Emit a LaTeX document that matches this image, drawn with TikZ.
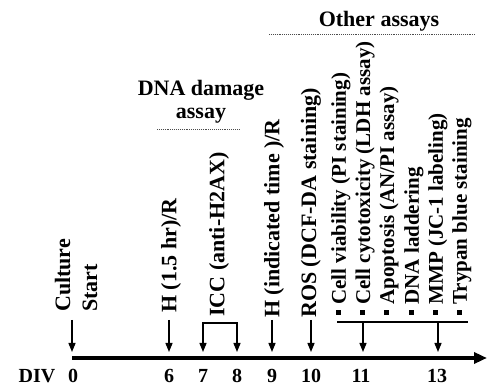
\documentclass[tikz,border=0pt]{standalone}
\usepackage{fontspec}
\setmainfont{Liberation Serif}
\usetikzlibrary{arrows.meta, positioning}
\tikzset{
    lbl/.style={rotate=90, anchor=west, inner sep=0pt, font=\fontsize{21}{24}\selectfont\bfseries},
    evt/.style={lbl, font=\fontsize{22}{27}\selectfont\bfseries},
    head/.style={align=center, inner sep=0pt, font=\fontsize{22}{23}\selectfont\bfseries},
    day/.style={anchor=base, inner sep=0pt, font=\fontsize{20}{24}\selectfont\bfseries},
    arrow/.style={line width=1.3pt, -{Triangle[length=9pt,width=7pt]}},
    both/.style={line width=1.3pt, {Triangle[length=9pt,width=7pt]}-{Triangle[length=9pt,width=7pt]}},
    bar/.style={line width=1.3pt},
    axis/.style={line width=3.5pt, -{Triangle[length=13pt,width=11pt]}},
    rule/.style={densely dotted, line width=0.9pt, black!70}
}
\newcommand{\sqbul}{\raisebox{0.22em}{\rule{0.24em}{0.24em}}\ }

\begin{document}
\begin{tikzpicture}[x=1pt, y=1pt]
    \useasboundingbox (0,0) rectangle (488,390);

    % time axis
    \coordinate (d0) at (72,32);
    \coordinate (dend) at (487,32);
    \draw [axis] (d0) -- (dend);
    \node (div) [day] at (37,7) {DIV};
    \foreach \d/\x in {0/73, 6/169, 7/203, 8/237, 9/272, 10/311, 11/361, 13/437}
        \node (n\d) [day] at (\x,7) {\d};

    % single arrows
    \foreach \n/\x in {0/72, 6/169, 9/272, 10/311} {
        \coordinate (top\n) at (\x,70);
        \coordinate (tip\n) at (\x,38);
        \draw [arrow] (top\n) -- (tip\n);
    }

    % ICC bracket
    \coordinate (icc7) at (203,67);
    \coordinate (icc8) at (237,67);
    \coordinate (tip7) at (203,38);
    \coordinate (tip8) at (237,38);
    \draw [both] (tip7) -- (icc7) -- (icc8) -- (tip8);

    % other assays bracket
    \coordinate (othL) at (337,68);
    \coordinate (othR) at (468,68);
    \coordinate (top11) at (363,68);
    \coordinate (top13) at (438,68);
    \coordinate (tip11) at (363,38);
    \coordinate (tip13) at (438,38);
    \draw [bar] (othL) -- (othR);
    \draw [arrow] (top11) -- (tip11);
    \draw [arrow] (top13) -- (tip13);

    % labels
    \node (cult) [evt, align=left] at (76,78) {Culture\\Start};
    \node (h15) [evt] at (171,77) {H (1.5 hr)/R};
    \node (icc) [evt] at (219,73) {ICC (anti-H2AX)};
    \node (hind) [evt] at (274,72) {H (indicated time )/R};
    \node (ros) [evt] at (311,72) {ROS (DCF-DA staining)};
    \node (via) [lbl] at (341,75) {\sqbul Cell viability (PI staining)};
    \node (cyt) [lbl] at (365,75) {\sqbul Cell cytotoxicity (LDH assay)};
    \node (apo) [lbl] at (389,75) {\sqbul Apoptosis (AN/PI assay)};
    \node (lad) [lbl] at (414,75) {\sqbul DNA laddering};
    \node (mmp) [lbl] at (438,75) {\sqbul MMP (JC-1 labeling)};
    \node (try) [lbl] at (462,75) {\sqbul Trypan blue staining};

    % headings
    \node (dna) [head, anchor=north] at (201,310) {DNA damage\\assay};
    \coordinate (dnaL) at (157,261);
    \coordinate (dnaR) at (240,261);
    \draw [rule] (dnaL) -- (dnaR);
    \node (oth) [head, anchor=base] at (379,363) {Other assays};
    \coordinate (othHL) at (269,356);
    \coordinate (othHR) at (476,356);
    \draw [rule] (othHL) -- (othHR);
\end{tikzpicture}
\end{document}
